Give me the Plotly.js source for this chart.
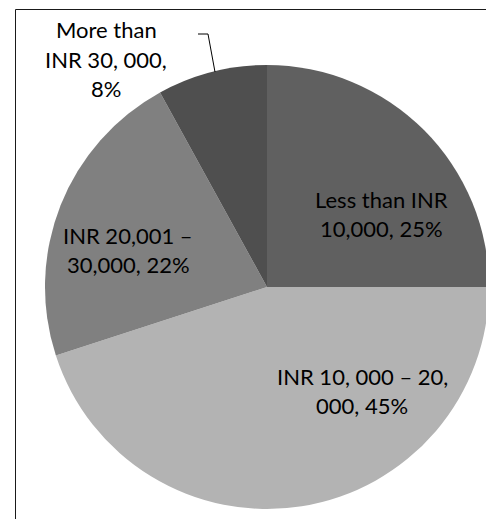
<!DOCTYPE html>
<html>
<head>
<meta charset="utf-8">
<script src="https://cdn.plot.ly/plotly-3.0.1.min.js"></script>
<style>
html,body{margin:0;padding:0;overflow:hidden;background:#fff;}
#chart{width:540px;height:540px;}
</style>
</head>
<body>
<div id="chart"></div>
<script>
// Data
const categories = ['Less than INR 10,000', 'INR 10, 000 – 20, 000', 'INR 20,001 – 30,000', 'More than INR 30, 000'];
const values = [25, 45, 22, 8];
const wrappedLabels = ['Less than INR<br>10,000', 'INR 10, 000 – 20,<br>000', 'INR 20,001 –<br>30,000', 'More than<br>INR 30, 000'];
const labelSeparators = [' ', ' ', ' ', '<br>'];
const sliceColors = ['#606060', '#b3b3b3', '#808080', '#4f4f4f'];

const W = 540, H = 540;
const cx = 267, cy = 287, R = 222;
function px(x){return x / W;}
function py(y){return (H - y) / H;}

// label block centre positions (pixels) and line spacing
const labelPos = [[381, 214], [362, 391], [128, 250], [106, 59]];
const lineGap = 29.5;

const annotations = [];
categories.forEach((c, i) => {
  const lines = (wrappedLabels[i] + ',' + labelSeparators[i] + values[i] + '%').split('<br>');
  const n = lines.length;
  lines.forEach((ln, k) => {
    const yc = labelPos[i][1] + (k - (n - 1) / 2) * lineGap;
    annotations.push({
      x: px(labelPos[i][0]), y: py(yc), xref: 'paper', yref: 'paper',
      xanchor: 'center', yanchor: 'middle', showarrow: false, align: 'center',
      text: ln,
      font: {family: 'Lato, sans-serif', size: 22, color: '#000'}
    });
  });
});

const trace = {
  type: 'pie',
  labels: categories,
  values: values,
  sort: false,
  direction: 'clockwise',
  rotation: 0,
  textinfo: 'none',
  hoverinfo: 'label+percent',
  marker: {colors: sliceColors, line: {width: 0}},
  showlegend: false,
  domain: {x: [px(cx - R), px(cx + R)], y: [py(cy + R), py(cy - R)]}
};

const layout = {
  width: W, height: H,
  margin: {l: 0, r: 0, t: 0, b: 0},
  paper_bgcolor: '#fff',
  plot_bgcolor: '#fff',
  showlegend: false,
  annotations: annotations,
  shapes: [
    {type: 'rect', xref: 'paper', yref: 'paper', x0: px(15.5), x1: px(600), y0: py(600), y1: py(9.5),
     line: {color: '#1a1a1a', width: 1}, fillcolor: 'rgba(0,0,0,0)', layer: 'below'},
    {type: 'path', xref: 'paper', yref: 'paper',
     path: 'M ' + px(198) + ' ' + py(34) + ' L ' + px(208) + ' ' + py(34) + ' L ' + px(215) + ' ' + py(72),
     line: {color: '#000', width: 1}}
  ]
};

Plotly.newPlot('chart', [trace], layout, {displayModeBar: false, staticPlot: true});
</script>
</body>
</html>
